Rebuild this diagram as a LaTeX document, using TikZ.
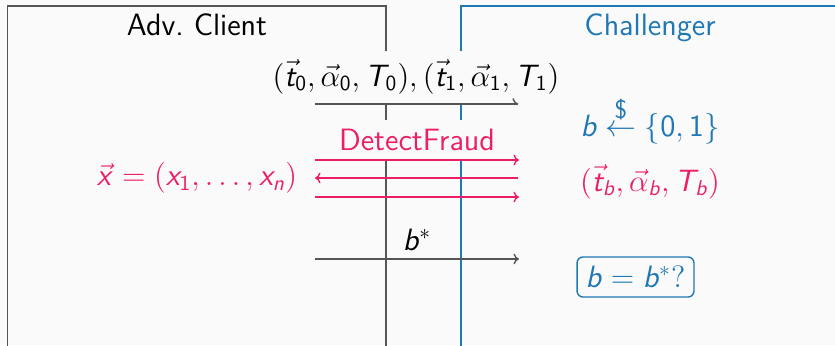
\documentclass[tikz,border=0pt]{standalone}
\usepackage{amsmath}
\usetikzlibrary{arrows.meta}
\DeclareMathAlphabet{\mathsfit}{OT1}{cmss}{m}{sl}
\renewcommand\familydefault{\sfdefault}
\definecolor{bgc}{HTML}{FAFAFA}
\definecolor{blu}{HTML}{1F77B4}
\definecolor{pnk}{HTML}{EC1F66}
\definecolor{frame}{HTML}{555555}
\newcommand\vi[1]{\mathsfit{#1}}
\newcommand\ds[1]{\mathsf{#1}}
\begin{document}
\begin{tikzpicture}[x=0.467pt,y=-0.467pt,
  every node/.style={font=\fontsize{14.4}{17}\selectfont\sffamily},
  lbl/.style={inner sep=1pt},
  cover/.style={fill=bgc,inner xsep=2pt},
  partyL/.style={draw=frame,line width=0.75pt},
  partyR/.style={draw=blu,line width=0.75pt},
  tip/.style={-{To[length=2.6pt,width=5pt]}},
  msg/.style={draw=frame,line width=0.65pt},
  pmsg/.style={draw=pnk,line width=0.65pt},
  chk/.style={draw=blu,line width=0.65pt,rounded corners=2.8pt,minimum width=54.6pt,minimum height=18.7pt,text=blu}]
\useasboundingbox (0,0) rectangle (835,345);
\fill[bgc] (0,0) rectangle (835,345);
\clip (0,0) rectangle (835,345);
% party boxes
\coordinate (L1) at (7.5,360);
\coordinate (L2) at (7.5,6);
\coordinate (L3) at (386,6);
\coordinate (L4) at (386,360);
\coordinate (R1) at (461,360);
\coordinate (R2) at (461,6);
\coordinate (R3) at (850,6);
\draw[partyL] (L1) -- (L2) -- (L3) -- (L4);
\draw[partyR] (R1) -- (R2) -- (R3);
% titles
\node[lbl,anchor=base] (adv) at (197,36) {Adv.\ Client};
\node[lbl,anchor=base,text=blu] (chal) at (650,36) {Challenger};
% labels covering lines
\node[cover,minimum height=24.3pt] (m1) at (416,77)
  {$(\vec{\vi{t}}_{\ds{0}},\vec{\alpha}_{\ds{0}},\vi{T}_{\ds{0}}),(\vec{\vi{t}}_{\ds{1}},\vec{\alpha}_{\ds{1}},\vi{T}_{\ds{1}})$};
\node[cover,minimum height=18.7pt,text=pnk] (df) at (417,140) {DetectFraud};
\node[lbl] (bs) at (417,240) {$\vi{b}^{*}$};
% left side
\node[lbl,text=pnk] (xv) at (197,178) {$\vec{\vi{x}}=(\vi{x}_{\ds{1}},\ldots,\vi{x}_{\vi{n}})$};
% right side
\node[lbl,anchor=base,text=blu] (samp) at (650,136) {$\vi{b}\overset{\textsf{\large\$}}{\leftarrow}\{\ds{0},\ds{1}\}$};
\node[lbl,text=pnk] (tb) at (650,182) {$(\vec{\vi{t}}_{\vi{b}},\vec{\alpha}_{\vi{b}},\vi{T}_{\vi{b}})$};
\node[chk] (eq) at (635.5,277) {$\vi{b}=\vi{b}^{*}\ds{?}$};
% messages
\coordinate (a1s) at (315,104);
\coordinate (a1e) at (518,104);
\coordinate (a1t) at (513,98.5);
\draw[msg] (a1s) -- (a1e);
\draw[msg] (a1t) .. controls (514.5,102.5) and (516,104) .. (a1e);
\coordinate (p1s) at (315,160);
\coordinate (p1e) at (519,160);
\coordinate (p2s) at (518,178);
\coordinate (p2e) at (315,178);
\coordinate (p3s) at (315,197);
\coordinate (p3e) at (519,197);
\draw[pmsg,tip] (p1s) -- (p1e);
\draw[pmsg,tip] (p2s) -- (p2e);
\draw[pmsg,tip] (p3s) -- (p3e);
\coordinate (b1s) at (315,259);
\coordinate (b1e) at (519,259);
\draw[msg,tip] (b1s) -- (b1e);
\end{tikzpicture}
\end{document}
